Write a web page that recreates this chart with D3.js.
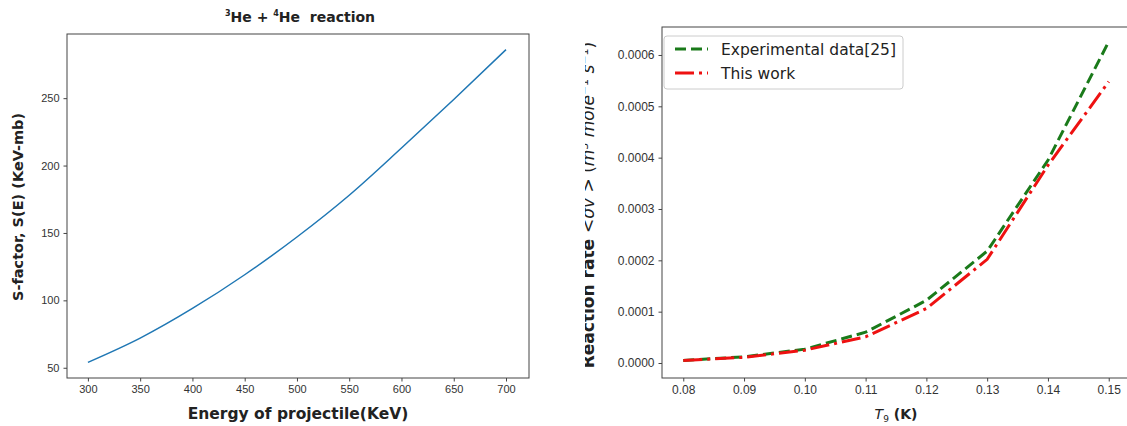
<!DOCTYPE html>
<html><head><meta charset="utf-8">
<script src="https://cdn.jsdelivr.net/npm/d3@7"></script>
<style>
body{margin:0;background:#fff;}
svg{display:block;font-family:"DejaVu Sans",sans-serif;}
.tick text{fill:#333;font-size:11px;}
.tick line{stroke:#444;}
.right .tick text{font-size:12px;}
</style></head>
<body><svg id="c" width="1127" height="426"></svg>
<script>
// Left panel: S-factor
const energy = [300, 350, 400, 450, 500, 550, 600, 650, 700];
const sFactor = [54, 72, 94, 119, 147, 178, 213, 249, 286];
const energyTicks = [300, 350, 400, 450, 500, 550, 600, 650, 700];
const sTicks = [50, 100, 150, 200, 250];

// Right panel: reaction rate
const t9 = [0.08, 0.09, 0.10, 0.11, 0.12, 0.13, 0.14, 0.15];
const experimental = [0.000005, 0.000012, 0.000027, 0.000060, 0.000122, 0.000218, 0.000395, 0.000626];
const thisWork = [0.000005, 0.000011, 0.000025, 0.000051, 0.000106, 0.000202, 0.000385, 0.000548];
const t9Ticks = [0.08, 0.09, 0.10, 0.11, 0.12, 0.13, 0.14, 0.15];
const rateTicks = [0, 0.0001, 0.0002, 0.0003, 0.0004, 0.0005, 0.0006];
const seriesNames = ["Experimental data[25]", "This work"];

const svg = d3.select("#c");

// ---------- Left ----------
const xL = d3.scaleLinear().domain([280, 722]).range([67, 529]);
const yL = d3.scaleLinear().domain([42.4, 297.6]).range([378, 34]);
const gL = svg.append("g");
gL.append("g").attr("transform", "translate(0,378)")
  .call(d3.axisBottom(xL).tickValues(energyTicks).tickFormat(d3.format("d")).tickSize(3.5).tickPadding(4).tickSizeOuter(0))
  .call(g => g.select(".domain").remove());
gL.append("g").attr("transform", "translate(67,0)")
  .call(d3.axisLeft(yL).tickValues(sTicks).tickFormat(d3.format("d")).tickSize(3.5).tickPadding(4).tickSizeOuter(0))
  .call(g => g.select(".domain").remove());
gL.append("rect").attr("x", xL.range()[0]).attr("y", yL.range()[1])
  .attr("width", xL.range()[1] - xL.range()[0]).attr("height", yL.range()[0] - yL.range()[1])
  .attr("fill", "none").attr("stroke", "#444").attr("stroke-width", 1);
gL.append("path").datum(energy.map((e, i) => [e, sFactor[i]]))
  .attr("fill", "none").attr("stroke", "#1f77b4").attr("stroke-width", 1.5)
  .attr("d", d3.line().curve(d3.curveMonotoneX).x(d => xL(d[0])).y(d => yL(d[1])));
const title = gL.append("text").attr("x", 300).attr("y", 22).attr("text-anchor", "middle")
  .attr("font-weight", "bold").attr("font-size", 14).attr("fill", "#222");
title.append("tspan").attr("font-size", 8).attr("dy", -6).text("3");
title.append("tspan").attr("dy", 6).text("He + ");
title.append("tspan").attr("font-size", 8).attr("dy", -6).text("4");
title.append("tspan").attr("dy", 6).text("He\u00a0 reaction");
gL.append("text").attr("x", 298).attr("y", 419).attr("text-anchor", "middle")
  .attr("font-weight", "bold").attr("font-size", 15.5).attr("fill", "#222")
  .text("Energy of projectile(KeV)");
gL.append("text").attr("transform", "translate(23,207) rotate(-90)").attr("text-anchor", "middle")
  .attr("font-weight", "bold").attr("font-size", 14.5).attr("fill", "#222")
  .text("S-factor, S(E) (KeV-mb)");

// ---------- Right ----------
const xR = d3.scaleLinear().domain([0.0765, 0.1535]).range([662, 1130]);
const yR = d3.scaleLinear().domain([-0.0000292, 0.0006545]).range([378, 27]);
const gR = svg.append("g").attr("class", "right");
gR.append("g").attr("transform", "translate(0,378)")
  .call(d3.axisBottom(xR).tickValues(t9Ticks).tickFormat(d3.format(".2f")).tickSize(3.5).tickPadding(4).tickSizeOuter(0))
  .call(g => g.select(".domain").remove());
gR.append("g").attr("transform", "translate(662,0)")
  .call(d3.axisLeft(yR).tickValues(rateTicks).tickFormat(d3.format(".4f")).tickSize(3.5).tickPadding(4).tickSizeOuter(0))
  .call(g => g.select(".domain").remove());
gR.append("rect").attr("x", xR.range()[0]).attr("y", yR.range()[1])
  .attr("width", xR.range()[1] - xR.range()[0]).attr("height", yR.range()[0] - yR.range()[1])
  .attr("fill", "none").attr("stroke", "#444").attr("stroke-width", 1);
const lineR = d3.line().x(d => xR(d[0])).y(d => yR(d[1]));
gR.append("path").datum(t9.map((t, i) => [t, experimental[i]]))
  .attr("fill", "none").attr("stroke", "#1a7a1a").attr("stroke-width", 3)
  .attr("stroke-dasharray", "11,5").attr("d", lineR);
gR.append("path").datum(t9.map((t, i) => [t, thisWork[i]]))
  .attr("fill", "none").attr("stroke", "#ee1111").attr("stroke-width", 3)
  .attr("stroke-dasharray", "19,5,3,5").attr("d", lineR);

// legend
const lg = gR.append("g");
lg.append("rect").attr("x", 664).attr("y", 36).attr("width", 239).attr("height", 53).attr("rx", 3)
  .attr("fill", "#fff").attr("fill-opacity", 0.8).attr("stroke", "#ccc");
lg.append("line").attr("x1", 675).attr("x2", 708).attr("y1", 49).attr("y2", 49)
  .attr("stroke", "#1a7a1a").attr("stroke-width", 3).attr("stroke-dasharray", "11,5");
lg.append("line").attr("x1", 675).attr("x2", 708).attr("y1", 73).attr("y2", 73)
  .attr("stroke", "#ee1111").attr("stroke-width", 3).attr("stroke-dasharray", "19,5,3,5");
seriesNames.forEach((n, i) => {
  lg.append("text").attr("x", 721).attr("y", 55 + i * 24).attr("font-size", 15.5).attr("fill", "#222").text(n);
});

gR.append("text").attr("x", 896).attr("y", 419).attr("text-anchor", "middle")
  .attr("font-size", 14).attr("fill", "#222")
  .call(t => {
    t.append("tspan").attr("font-style", "italic").text("T");
    t.append("tspan").attr("font-size", 9).attr("dy", 3).text("9");
    t.append("tspan").attr("dy", -3).attr("font-weight", "bold").text(" (K)");
  });

svg.append("defs").append("clipPath").attr("id", "ylclip")
  .append("rect").attr("x", 585).attr("y", 0).attr("width", 60).attr("height", 426);
const ylg = gR.append("g").attr("clip-path", "url(#ylclip)");
const yl = ylg.append("text")
  .attr("transform", "translate(594,205) rotate(-90)").attr("text-anchor", "middle")
  .attr("font-size", 17).attr("fill", "#222");
yl.append("tspan").attr("font-weight", "bold").text("Reaction rate ");
yl.append("tspan").attr("font-style", "italic").text("<σv >");
yl.append("tspan").text(" (");
yl.append("tspan").attr("font-style", "italic").text("m");
yl.append("tspan").attr("font-size", 11).attr("dy", -6).text("3");
yl.append("tspan").attr("dy", 6).attr("font-style", "italic").text(" mole");
yl.append("tspan").attr("font-size", 11).attr("dy", -6).text("−1");
yl.append("tspan").attr("dy", 6).attr("font-style", "italic").text(" s");
yl.append("tspan").attr("font-size", 11).attr("dy", -6).text("−1");
yl.append("tspan").attr("dy", 6).text(")");
</script></body></html>
